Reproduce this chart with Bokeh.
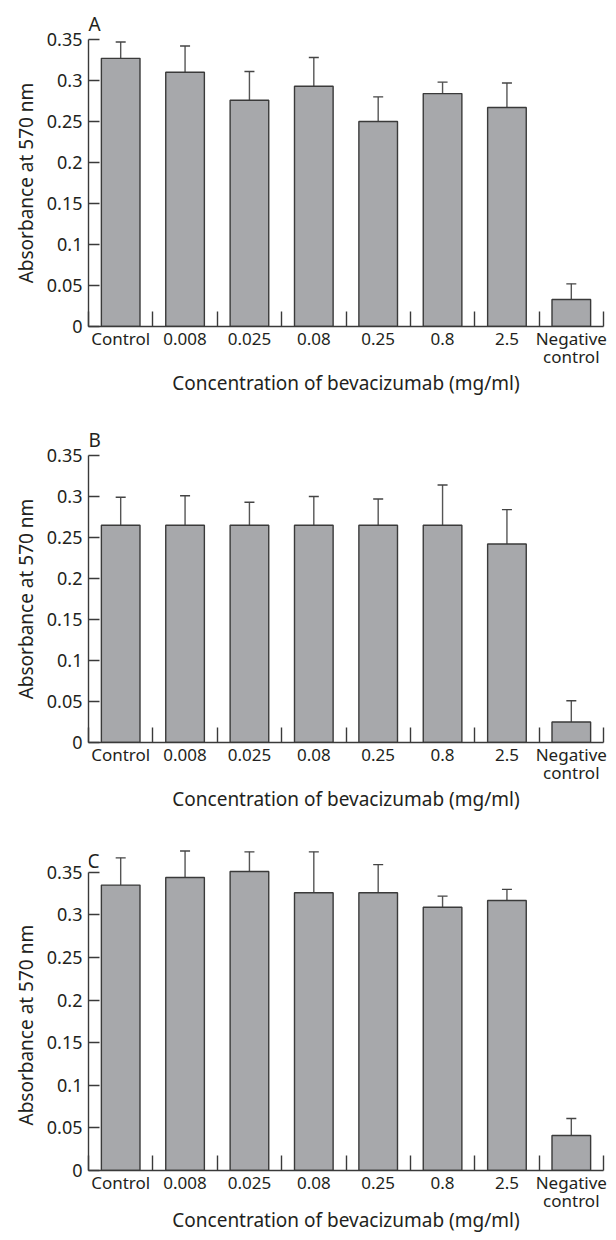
import math
from bokeh.plotting import figure
from bokeh.models import (Range1d, FixedTicker, Whisker, TeeHead, ColumnDataSource, Label,
                          LinearAxis, Title)
from bokeh.layouts import column
from bokeh.embed import file_html
from bokeh.resources import INLINE

categories = ["Control", "0.008", "0.025", "0.08", "0.25", "0.8", "2.5", "Negative control"]
a_mean = [0.327, 0.310, 0.276, 0.293, 0.250, 0.284, 0.267, 0.033]
a_upper = [0.347, 0.342, 0.311, 0.328, 0.280, 0.298, 0.297, 0.052]
b_mean = [0.265, 0.265, 0.265, 0.265, 0.265, 0.265, 0.242, 0.025]
b_upper = [0.299, 0.301, 0.293, 0.300, 0.297, 0.314, 0.284, 0.051]
c_mean = [0.335, 0.344, 0.351, 0.326, 0.326, 0.309, 0.317, 0.041]
c_upper = [0.367, 0.375, 0.374, 0.374, 0.359, 0.322, 0.330, 0.061]
y_ticks = [0, 0.05, 0.1, 0.15, 0.2, 0.25, 0.3, 0.35]
y_tick_labels = ["0", "0.05", "0.1", "0.15", "0.2", "0.25", "0.3", "0.35"]
x_title = "Concentration of bevacizumab (mg/ml)"
y_title = "Absorbance at 570 nm"

FONT = "Noto Sans"
TXT = "#231f20"
AX = "#3a3a3a"
BAR = "#a7a8ab"


def panel(letter, mean, upper, width, height, top_b, bot_b, y_end, right_b,
          letter_inside, ytitle_align, ytitle_offset, xtitle_standoff):
    n = len(categories)
    centers = [i + 0.5 for i in range(n)]
    bounds = [i for i in range(n + 1)]
    p = figure(width=width, height=height, output_backend="svg", toolbar_location=None,
               x_range=Range1d(0, n), y_range=Range1d(0, y_end),
               min_border_left=88, min_border_right=right_b,
               min_border_top=top_b, min_border_bottom=bot_b)
    p.outline_line_color = None
    p.grid.visible = False
    p.background_fill_color = "white"
    p.border_fill_color = "white"

    src = ColumnDataSource(dict(x=centers, top=mean, upper=upper))
    p.vbar(x="x", top="top", bottom=0, width=0.6, source=src,
           fill_color=BAR, line_color=AX, line_width=1.4)
    p.add_layout(Whisker(base="x", lower="top", upper="upper", source=src,
                         line_color="#555555", line_width=1.4,
                         upper_head=TeeHead(size=10, line_color="#444444", line_width=1.4),
                         lower_head=None))

    first_words = [c.split(" ")[0] for c in categories]
    second_words = [c.split(" ")[1] if " " in c else "" for c in categories]

    xa = p.xaxis[0]
    xa.ticker = FixedTicker(ticks=centers, minor_ticks=bounds)
    xa.major_label_overrides = {c: lab for c, lab in zip(centers, first_words)}
    xa.major_tick_line_color = None
    xa.minor_tick_in = 15
    xa.minor_tick_out = 0
    xa.minor_tick_line_color = AX
    xa.minor_tick_line_width = 1.4
    xa.axis_line_color = AX
    xa.axis_line_width = 1.4
    xa.major_label_standoff = -6
    xa.major_label_text_font = FONT
    xa.major_label_text_font_size = "17px"
    xa.major_label_text_color = TXT

    ticks2 = [c for c, w in zip(centers, second_words) if w]
    xa2 = LinearAxis(ticker=FixedTicker(ticks=ticks2, minor_ticks=[]),
                     major_label_overrides={c: w for c, w in zip(centers, second_words) if w})
    xa2.axis_line_color = None
    xa2.major_tick_line_color = None
    xa2.minor_tick_line_color = None
    xa2.major_label_standoff = -14
    xa2.major_label_text_font = FONT
    xa2.major_label_text_font_size = "17px"
    xa2.major_label_text_color = TXT
    xa2.axis_label = x_title
    xa2.axis_label_text_font = FONT
    xa2.axis_label_text_font_size = "19px"
    xa2.axis_label_text_font_style = "normal"
    xa2.axis_label_text_color = TXT
    xa2.axis_label_standoff = xtitle_standoff
    p.add_layout(xa2, "below")

    ya = p.yaxis[0]
    ya.ticker = FixedTicker(ticks=y_ticks, minor_ticks=[])
    ya.major_label_overrides = {t: lab for t, lab in zip(y_ticks, y_tick_labels)}
    ya.bounds = (0, y_ticks[-1])
    ya.major_tick_in = 11
    ya.major_tick_out = 0
    ya.major_tick_line_color = AX
    ya.major_tick_line_width = 1.4
    ya.axis_line_color = AX
    ya.axis_line_width = 1.4
    ya.major_label_standoff = 6
    ya.major_label_text_font = FONT
    ya.major_label_text_font_size = "18px"
    ya.major_label_text_color = TXT

    yt = Title(text=y_title, align=ytitle_align, text_font=FONT, text_font_size="19px",
               text_font_style="normal", text_color=TXT, standoff=10, offset=ytitle_offset)
    p.add_layout(yt, "left")

    if letter_inside:
        p.add_layout(Label(x=0, y=y_ticks[-1], x_offset=-1, y_offset=11, text=letter,
                           text_align="left", text_baseline="alphabetic", text_font=FONT,
                           text_font_size="19px", text_color=TXT))
    else:
        p.add_layout(Title(text=letter, align="left", text_font=FONT, text_font_size="19px",
                           text_font_style="normal", text_color=TXT, standoff=6), "above")
    return p


pa = panel("A", a_mean, a_upper, 616, 421, 39, 95, 0.35, 13, False, "center", 0, -1)
pb = panel("B", b_mean, b_upper, 616, 413, 31, 92, 0.35, 13, False, "center", 0, -1)
pc = panel("C", c_mean, c_upper, 616, 406, 8, 70, 0.385, 4, True, "left", 45, -8)

layout = column(pa, pb, pc, spacing=0)
open("out.html", "w").write(file_html(layout, INLINE))
